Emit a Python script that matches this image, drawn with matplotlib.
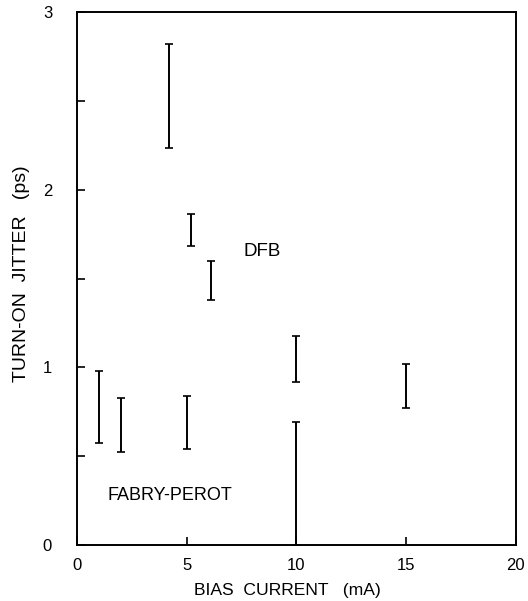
import matplotlib
matplotlib.use("Agg")
import matplotlib.pyplot as plt
import numpy as np

plt.rcParams['font.family'] = ['Liberation Sans', 'DejaVu Sans']

# Fabry-Perot laser jitter ranges
fp_current = [1, 2, 5, 10]
fp_low = [0.577, 0.525, 0.54, 0.0]
fp_high = [0.977, 0.827, 0.84, 0.695]

# DFB laser jitter ranges
dfb_current = [4.2, 5.2, 6.1, 10, 15]
dfb_low = [2.235, 1.684, 1.379, 0.92, 0.77]
dfb_high = [2.82, 1.862, 1.60, 1.175, 1.02]

x_ticks = [0, 5, 10, 15, 20]
y_ticks = [0, 1, 2, 3]

fig = plt.figure(figsize=(5.28, 6.01), dpi=100)
ax = fig.add_axes([0.146, 0.093, 0.831, 0.887])

for xs, lo, hi in [(fp_current, fp_low, fp_high), (dfb_current, dfb_low, dfb_high)]:
    lo = np.array(lo); hi = np.array(hi)
    mid = (lo + hi) / 2
    err = (hi - lo) / 2
    ax.errorbar(xs, mid, yerr=err, fmt='none', ecolor='black',
                elinewidth=1.4, capsize=2.6, capthick=1.2)

ax.set_xlim(0, 20)
ax.set_ylim(0, 3)
ax.set_xticks(x_ticks)
ax.set_yticks(y_ticks)
ax.set_yticks([0.5, 1.5, 2.5], minor=True)
ax.tick_params(axis='both', which='both', direction='in', labelsize=12)
ax.tick_params(axis='both', which='major', length=6, width=1.2)
ax.tick_params(axis='y', which='minor', length=6, width=1.2)
ax.tick_params(axis='x', pad=9)
ax.tick_params(axis='y', pad=18)
for s in ax.spines.values():
    s.set_linewidth(1.4)

ax.text(7.6, 1.625, 'DFB', fontsize=13.5)
ax.text(1.38, 0.255, 'FABRY-PEROT', fontsize=13)

ax.set_xlabel('BIAS  CURRENT   (mA)', fontsize=12.6)
ax.set_ylabel('TURN-ON  JITTER   (ps)', fontsize=14)
ax.xaxis.set_label_coords(0.48, -0.071)
ax.yaxis.set_label_coords(-0.107, 0.51)

fig.savefig('out.png', dpi=100)
